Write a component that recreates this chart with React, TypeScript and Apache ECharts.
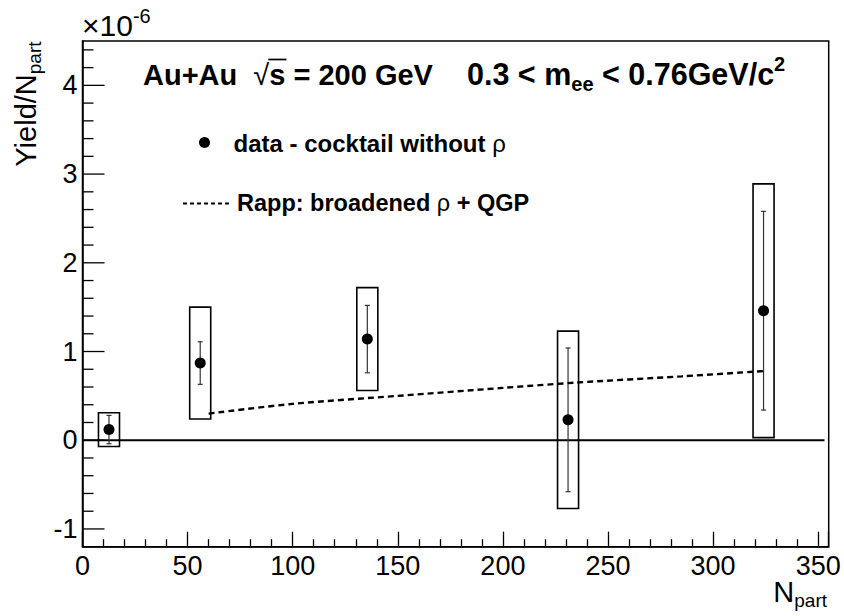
import React, { useEffect, useRef } from "react";
import * as echarts from "echarts";

// ---- data (yield values in units of 1e-6) ----
const nPart = [12.6, 56.0, 135.5, 231.0, 324.0];
const yieldPerNpart = [0.12, 0.87, 1.14, 0.23, 1.46];
const statErr = [0.16, 0.24, 0.38, 0.81, 1.12];
const sysErr = [0.19, 0.63, 0.58, 1.0, 1.43];
const rappNpart = [60, 100, 150, 200, 235, 285, 324];
const rappYield = [0.3, 0.41, 0.5, 0.59, 0.65, 0.72, 0.78];
const zeroLineN = [0, 353];
const xTickValues = [0, 50, 100, 150, 200, 250, 300, 350];
const yTickValues = [-1, 0, 1, 2, 3, 4];
const yMinorTickValues = [
  -0.8, -0.6, -0.4, -0.2, 0.2, 0.4, 0.6, 0.8, 1.2, 1.4, 1.6, 1.8, 2.2, 2.4, 2.6, 2.8, 3.2, 3.4, 3.6,
  3.8, 4.2, 4.4,
];

const FONT = '"Liberation Sans", Arial, Helvetica, sans-serif';
const CENTRAL = 0.3465; // central baseline above alphabetic baseline (em)
const BOX_HALF = 5; // half width of systematic boxes in N_part units
const X_MIN = 0;

let measureCtx: CanvasRenderingContext2D | null = null;
function measure(text: string, size: number, bold?: boolean): number {
  if (!measureCtx) measureCtx = document.createElement("canvas").getContext("2d");
  measureCtx!.font = `${bold ? "bold " : ""}${size}px ${FONT}`;
  return measureCtx!.measureText(text).width;
}

type Piece = { t: string; size: number; dy?: number; bold?: boolean };

function piecesWidth(pieces: Piece[]): number {
  return pieces.reduce((s, p) => s + measure(p.t, p.size, p.bold), 0);
}

function textPieces(pieces: Piece[], x0: number, baseline: number): any[] {
  let x = x0;
  const out: any[] = [];
  for (const p of pieces) {
    out.push({
      type: "text",
      x,
      y: baseline + (p.dy || 0) - CENTRAL * p.size,
      silent: true,
      style: {
        text: p.t,
        fontSize: p.size,
        fontWeight: p.bold ? "bold" : "normal",
        fontFamily: FONT,
        fill: "#000",
        textAlign: "left",
        textVerticalAlign: "middle",
        align: "left",
        verticalAlign: "middle",
      },
    });
    x += measure(p.t, p.size, p.bold);
  }
  return out;
}

function buildGraphics(): any[] {
  const g: any[] = [];
  // x10^-6
  g.push(
    ...textPieces(
      [
        { t: "×10", size: 30 },
        { t: "-6", size: 20, dy: -13 },
      ],
      82,
      36
    )
  );
  // Title part 1
  const t1x = 143;
  const tb = 85;
  const ts = 29;
  const p1: Piece[] = [
    { t: "Au+Au  ", size: ts, bold: true },
    { t: "√", size: ts },
    { t: "s = 200 GeV", size: ts, bold: true },
  ];
  g.push(...textPieces(p1, t1x, tb));
  const wA = measure("Au+Au  ", ts, true);
  const wR = measure("√", ts);
  const wS = measure("s", ts, true);
  g.push({
    type: "line",
    silent: true,
    shape: { x1: t1x + wA + wR - 1, y1: tb - 25.5, x2: t1x + wA + wR + wS + 1, y2: tb - 25.5 },
    style: { stroke: "#000", lineWidth: 1.7 },
  });
  // Title part 2
  const ts2 = 30.5;
  g.push(
    ...textPieces(
      [
        { t: "0.3 < m", size: ts2, bold: true },
        { t: "ee", size: 20, bold: true, dy: 6 },
        { t: " < 0.76GeV/c", size: ts2, bold: true },
        { t: "2", size: 20, bold: true, dy: -14 },
      ],
      467,
      tb
    )
  );
  // Legend
  g.push({
    type: "circle",
    silent: true,
    shape: { cx: 204.5, cy: 142.5, r: 5.5 },
    style: { fill: "#000" },
  });
  g.push(
    ...textPieces(
      [
        { t: "data - cocktail without ", size: 24, bold: true },
        { t: "ρ", size: 24 },
      ],
      233.5,
      152
    )
  );
  g.push({
    type: "line",
    silent: true,
    shape: { x1: 183, y1: 203.5, x2: 229, y2: 203.5 },
    style: { stroke: "#000", lineWidth: 2, lineDash: [4, 3] },
  });
  g.push(
    ...textPieces(
      [
        { t: "Rapp: broadened ", size: 23.5, bold: true },
        { t: "ρ", size: 23.5 },
        { t: " + QGP", size: 23.5, bold: true },
      ],
      237,
      211
    )
  );
  // X axis title
  const xt: Piece[] = [
    { t: "N", size: 29 },
    { t: "part", size: 19, dy: 5 },
  ];
  g.push(...textPieces(xt, 827 - piecesWidth(xt), 601.7));
  // Y axis title (rotated)
  const yt: Piece[] = [
    { t: "Yield/N", size: 29 },
    { t: "part", size: 19, dy: 5 },
  ];
  g.push({
    type: "group",
    x: 36,
    y: 41.5 + piecesWidth(yt),
    rotation: Math.PI / 2,
    silent: true,
    children: textPieces(yt, 0, 0),
  });
  return g;
}

function tickSeries(name: string, values: number[], len: number): any {
  return {
    type: "custom",
    name,
    silent: true,
    clip: false,
    z: 5,
    data: values.map((v) => [X_MIN, v]),
    encode: { x: 0, y: 1 },
    renderItem: (params: any, api: any) => {
      const p = api.coord([api.value(0), api.value(1)]);
      return {
        type: "line",
        shape: { x1: p[0], y1: p[1], x2: p[0] + len, y2: p[1] },
        style: { stroke: "#000", lineWidth: 1.3 },
      };
    },
  };
}

export default function App() {
  const ref = useRef<HTMLDivElement>(null);
  useEffect(() => {
    if (!ref.current) return;
    const chart = echarts.init(ref.current, null, { renderer: "svg" });
    const axisFont = { fontSize: 27, fontFamily: FONT, color: "#000" };
    const tickLine = { color: "#000", width: 1.3 };
    const option: any = {
      animation: false,
      backgroundColor: "#fff",
      grid: {
        left: 82.5,
        right: 15.3,
        top: 41,
        bottom: 69.3,
        show: true,
        borderColor: "#000",
        borderWidth: 1.5,
        backgroundColor: "transparent",
      },
      xAxis: {
        type: "value",
        min: X_MIN,
        max: 355,
        interval: 50,
        axisLine: { show: true, onZero: false, lineStyle: { color: "#000", width: 1.5 } },
        axisTick: { show: true, inside: true, length: 15, lineStyle: tickLine },
        minorTick: { show: true, splitNumber: 5, length: 7.5, lineStyle: tickLine },
        axisLabel: { ...axisFont, customValues: xTickValues, margin: 5.5 },
        splitLine: { show: false },
        minorSplitLine: { show: false },
      },
      yAxis: {
        type: "value",
        min: -1.2,
        max: 4.5,
        interval: 0.2,
        axisLine: { show: true, onZero: false, lineStyle: { color: "#000", width: 1.5 } },
        axisTick: { show: false },
        axisLabel: { ...axisFont, customValues: yTickValues, margin: 5, padding: [5, 0, 0, 0] },
        splitLine: { show: false },
      },
      series: [
        {
          type: "line",
          name: "zero",
          data: zeroLineN.map((n) => [n, 0]),
          symbol: "none",
          silent: true,
          lineStyle: { color: "#000", width: 2.2 },
          z: 1,
        },
        tickSeries("y major ticks", yTickValues, 22),
        tickSeries("y minor ticks", yMinorTickValues, 11),
        {
          type: "custom",
          name: "uncertainties",
          data: nPart.map((n, i) => [n, yieldPerNpart[i], statErr[i], sysErr[i]]),
          encode: { x: 0, y: 1 },
          z: 2,
          renderItem: (params: any, api: any) => {
            const x = api.value(0);
            const y = api.value(1);
            const s = api.value(2);
            const sy = api.value(3);
            const c = api.coord([x, y]);
            const tl = api.coord([x - BOX_HALF, y + sy]);
            const br = api.coord([x + BOX_HALF, y - sy]);
            const st = api.coord([x, y + s]);
            const sb = api.coord([x, y - s]);
            const es = { stroke: "#333", lineWidth: 1.2 };
            return {
              type: "group",
              children: [
                {
                  type: "rect",
                  shape: { x: tl[0], y: tl[1], width: br[0] - tl[0], height: br[1] - tl[1] },
                  style: { fill: "transparent", stroke: "#000", lineWidth: 1.6 },
                },
                { type: "line", shape: { x1: c[0], y1: st[1], x2: c[0], y2: sb[1] }, style: es },
                { type: "line", shape: { x1: c[0] - 2.5, y1: st[1], x2: c[0] + 2.5, y2: st[1] }, style: es },
                { type: "line", shape: { x1: c[0] - 2.5, y1: sb[1], x2: c[0] + 2.5, y2: sb[1] }, style: es },
              ],
            };
          },
        },
        {
          type: "line",
          name: "Rapp: broadened ρ + QGP",
          data: rappNpart.map((n, i) => [n, rappYield[i]]),
          symbol: "none",
          smooth: 0.3,
          lineStyle: { color: "#000", width: 2.4, type: [6, 4] },
          z: 3,
        },
        {
          type: "scatter",
          name: "data - cocktail without ρ",
          data: nPart.map((n, i) => [n, yieldPerNpart[i]]),
          symbol: "circle",
          symbolSize: 11,
          itemStyle: { color: "#000", opacity: 1 },
          z: 4,
        },
      ],
      graphic: { elements: buildGraphics() },
    };
    chart.setOption(option);
    return () => chart.dispose();
  }, []);
  return (
    <div
      ref={ref}
      style={{ position: "fixed", left: 0, top: 0, width: 844, height: 616, background: "#fff" }}
    />
  );
}
